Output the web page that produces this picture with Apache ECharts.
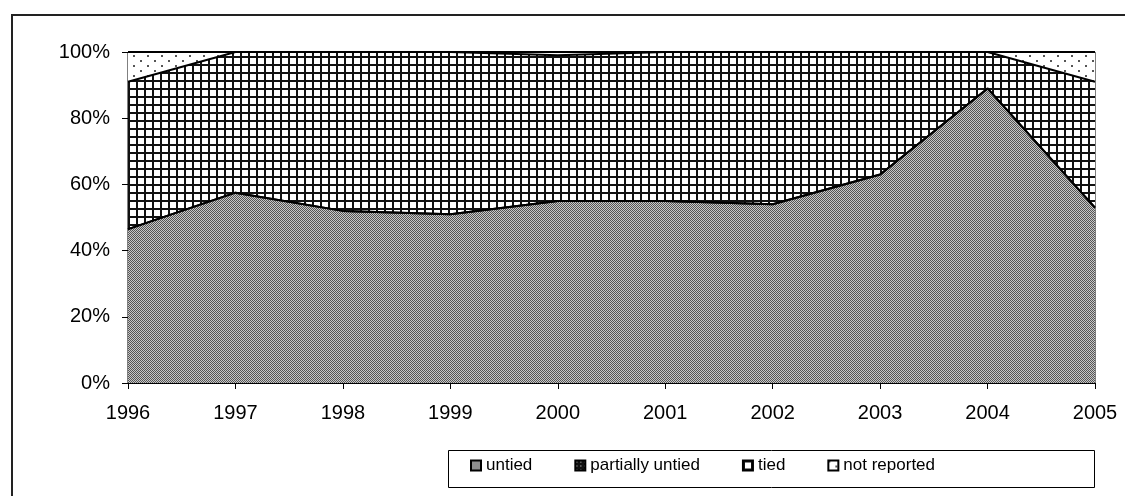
<!DOCTYPE html>
<html>
<head>
<meta charset="utf-8">
<script src="https://cdn.jsdelivr.net/npm/echarts@6/dist/echarts.min.js"></script>
<style>html,body{margin:0;padding:0;background:#fff}#c{width:1125px;height:496px}</style>
</head>
<body>
<div id="c"></div>
<script>
const years = ['1996','1997','1998','1999','2000','2001','2002','2003','2004','2005'];
const untied = [46.5, 57.5, 52, 51, 55, 55, 54, 63, 89, 53];
const partiallyUntied = [0, 0, 0, 0, 0, 0, 0, 0, 0, 0];
const tied = [44.5, 42.5, 48, 49, 44, 45, 46, 37, 11, 38];
const notReported = [9, 0, 0, 0, 1, 0, 0, 0, 0, 9];
const yTicks = [0, 20, 40, 60, 80, 100];

function pat(w, h, draw) {
  const c = document.createElement('canvas');
  c.width = w; c.height = h;
  const g = c.getContext('2d');
  draw(g);
  return { image: c, repeat: 'repeat' };
}
const untiedPat = pat(2, 2, g => {
  g.fillStyle = '#c8c8c8'; g.fillRect(0, 0, 2, 2);
  g.fillStyle = '#555555'; g.fillRect(0, 0, 1, 1); g.fillRect(1, 1, 1, 1);
});
const partialPat = pat(4, 4, g => {
  g.fillStyle = '#111'; g.fillRect(0, 0, 4, 4);
  g.fillStyle = '#fff'; g.fillRect(1, 1, 1, 1);
});
const tiedPat = pat(8, 8, g => {
  g.fillStyle = '#fff'; g.fillRect(0, 0, 8, 8);
  g.fillStyle = '#111'; g.fillRect(0, 0, 8, 2); g.fillRect(0, 0, 2, 8);
});
const nrPat = pat(14, 10, g => {
  g.fillStyle = '#fff'; g.fillRect(0, 0, 14, 10);
  g.fillStyle = '#555'; g.fillRect(0, 0, 2, 2); g.fillRect(7, 5, 2, 2);
});

const font = 'Liberation Sans';
function mk(name, data, color) {
  return {
    name, type: 'line', stack: 'all', data,
    showSymbol: false, symbol: 'none',
    lineStyle: { color: '#000', width: 2 },
    itemStyle: { color: color, borderColor: '#000', borderWidth: 1 },
    areaStyle: { color: color, opacity: 1 },
    emphasis: { disabled: true },
    animation: false
  };
}

const chart = echarts.init(document.getElementById('c'), null, { renderer: 'canvas' });
chart.setOption({
  animation: false,
  backgroundColor: '#fff',
  textStyle: { fontFamily: font, color: '#000' },
  grid: { left: 128, right: 30, top: 52, bottom: 113, show: true, borderColor: '#000', borderWidth: 1, backgroundColor: 'transparent' },
  graphic: [
    { type: 'polyline', shape: { points: [[12, 496], [12, 15], [1125, 15]] }, style: { stroke: '#222', lineWidth: 2, fill: null }, z: 100 },
    { type: 'rect', shape: { x: 448.5, y: 450.5, width: 646, height: 37 }, style: { stroke: '#000', lineWidth: 1, fill: null }, z: 100 }
  ],
  legend: {
    left: 470, top: 457,
    padding: 0,
    itemGap: 42,
    itemWidth: 10, itemHeight: 10,
    icon: 'rect',
    textStyle: { fontFamily: font, fontSize: 17, color: '#000', padding: [0, 0, 0, 0] },
    data: ['untied', 'partially untied', 'tied', 'not reported']
  },
  xAxis: {
    type: 'category', data: years, boundaryGap: false,
    axisLine: { lineStyle: { color: '#000', width: 1 } },
    axisTick: { show: true, alignWithLabel: true, length: 6, lineStyle: { color: '#000' } },
    axisLabel: { fontFamily: font, fontSize: 20, color: '#000', margin: 20 },
    splitLine: { show: false }
  },
  yAxis: {
    type: 'value', min: 0, max: 100, interval: 20,
    axisLine: { show: true, lineStyle: { color: '#000', width: 1 } },
    axisTick: { show: true, length: 6, lineStyle: { color: '#000' } },
    axisLabel: { fontFamily: font, fontSize: 20, color: '#000', margin: 18,
      formatter: v => yTicks.includes(v) ? v + '%' : '' },
    splitLine: { show: false }
  },
  series: [
    mk('untied', untied, untiedPat),
    mk('partially untied', partiallyUntied, partialPat),
    mk('tied', tied, tiedPat),
    mk('not reported', notReported, nrPat)
  ]
});
</script>
</body>
</html>
